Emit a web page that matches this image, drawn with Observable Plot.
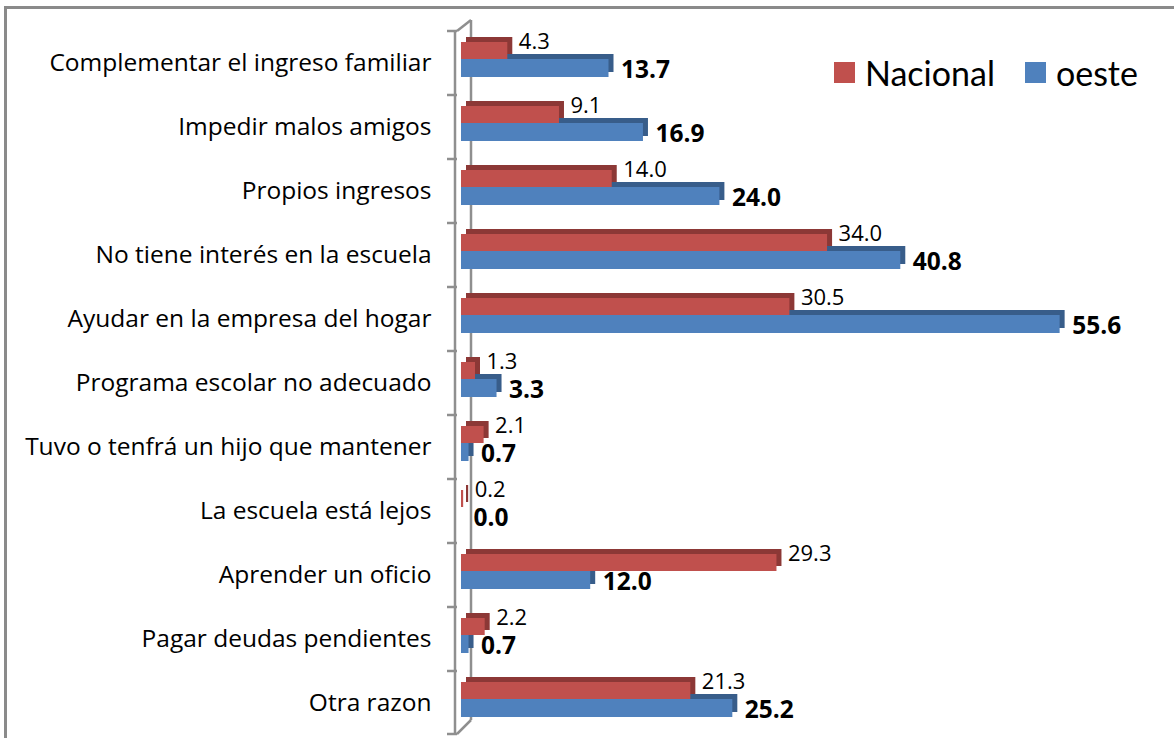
<!DOCTYPE html>
<html>
<head>
<meta charset="utf-8">
<script src="https://cdn.jsdelivr.net/npm/d3@7"></script>
<script src="https://cdn.jsdelivr.net/npm/@observablehq/plot@0.6"></script>
<style>
  html, body { margin: 0; padding: 0; background: #fff; }
  #wrap { position: relative; width: 1174px; height: 738px; overflow: hidden; font-family: Lato, "Open Sans", sans-serif; }
  #frame { position: absolute; left: 4px; top: 6px; width: 1200px; height: 760px; border-top: 3px solid #8a8a8a; border-left: 3px solid #8a8a8a; pointer-events: none; }
  #legend { position: absolute; top: 52px; left: 834px; display: flex; align-items: center; font-size: 34px; color: #000; }
  #legend .sw { width: 21px; height: 21px; display: inline-block; margin-right: 10px; }
  #legend .item { display: flex; align-items: center; margin-right: 30px; }
  #chart svg { position: absolute; left: 0; top: 0; }
</style>
</head>
<body>
<div id="wrap">
  <div id="chart"></div>
  <div id="frame"></div>
  <div id="legend"></div>
</div>
<script>
const categories = [
  "Complementar el ingreso familiar",
  "Impedir malos amigos",
  "Propios ingresos",
  "No tiene interés en la escuela",
  "Ayudar en la empresa del hogar",
  "Programa escolar no adecuado",
  "Tuvo o tenfrá un hijo que mantener",
  "La escuela está lejos",
  "Aprender un oficio",
  "Pagar deudas pendientes",
  "Otra razon"
];
const nacional = [4.3, 9.1, 14.0, 34.0, 30.5, 1.3, 2.1, 0.2, 29.3, 2.2, 21.3];
const oeste = [13.7, 16.9, 24.0, 40.8, 55.6, 3.3, 0.7, 0.0, 12.0, 0.7, 25.2];
const seriesNames = ["Nacional", "oeste"];
const seriesColors = ["#C0504D", "#4F81BD"];
const seriesDark = ["#8C3836", "#385D8A"];

const nacRows = categories.map((c, i) => ({cat: c, value: nacional[i]}));
const oesRows = categories.map((c, i) => ({cat: c, value: oeste[i]}));

const gray = "#8f8f8f";
function wall(index, scales, values, dimensions) {
  const x = scales.x, y = scales.y;
  const x0 = x(0);
  const top = dimensions.marginTop;
  const bottom = dimensions.height - dimensions.marginBottom;
  const g = d3.create("svg:g").attr("stroke", gray).attr("stroke-width", 2.5).attr("fill", "none");
  const fx = x0 - 6, bx = x0 + 10;
  g.append("line").attr("x1", bx).attr("x2", bx).attr("y1", top - 11).attr("y2", bottom - 15);
  g.append("line").attr("x1", fx).attr("x2", fx).attr("y1", top).attr("y2", bottom - 1);
  g.append("line").attr("x1", fx + 2).attr("y1", top).attr("x2", bx).attr("y2", top - 11);
  g.append("line").attr("x1", bx).attr("y1", bottom - 15).attr("x2", fx + 2).attr("y2", bottom - 1);
  const bounds = categories.map(c => y(c)).concat([bottom - 1]);
  for (const b of bounds) {
    g.append("line").attr("x1", fx - 8).attr("x2", fx + 2).attr("y1", b).attr("y2", b);
  }
  return g.node();
}

const plot = Plot.plot({
  width: 1174,
  height: 738,
  marginTop: 31,
  marginBottom: 3,
  marginLeft: 461,
  marginRight: 67,
  style: {fontFamily: "'Open Sans', Lato, sans-serif", color: "#000", background: "transparent", overflow: "visible"},
  x: {domain: [0, 60], axis: null},
  y: {domain: categories, padding: 0, axis: null},
  marks: [
    wall,
    Plot.barX(oesRows, {x: "value", y: "cat", fill: seriesDark[1], insetTop: 23, insetBottom: 23, dx: 5}),
    Plot.barX(oesRows, {x: "value", y: "cat", fill: seriesColors[1], insetTop: 28, insetBottom: 18}),
    Plot.barX(nacRows, {x: "value", y: "cat", fill: seriesDark[0], insetTop: 6, insetBottom: 41, dx: 5}),
    Plot.barX(nacRows, {x: "value", y: "cat", fill: seriesColors[0], insetTop: 11, insetBottom: 36}),
    Plot.text(nacRows, {x: "value", y: "cat", text: d => d.value.toFixed(1), textAnchor: "start", dx: 11, dy: -22, fontSize: 22, fill: "#000"}),
    Plot.text(oesRows, {x: "value", y: "cat", text: d => d.value.toFixed(1), textAnchor: "start", dx: 12, dy: 7, fontSize: 24.5, fontWeight: "bold", fill: "#000"}),
    Plot.axisY({tickSize: 0, tickPadding: 30, fontSize: 24.5, label: null, fill: "#000"})
  ]
});
document.getElementById("chart").appendChild(plot);

const legend = document.getElementById("legend");
seriesNames.forEach((name, i) => {
  const item = document.createElement("div");
  item.className = "item";
  const sw = document.createElement("span");
  sw.className = "sw";
  sw.style.background = seriesColors[i];
  item.appendChild(sw);
  item.appendChild(document.createTextNode(name));
  legend.appendChild(item);
});
</script>
</body>
</html>
